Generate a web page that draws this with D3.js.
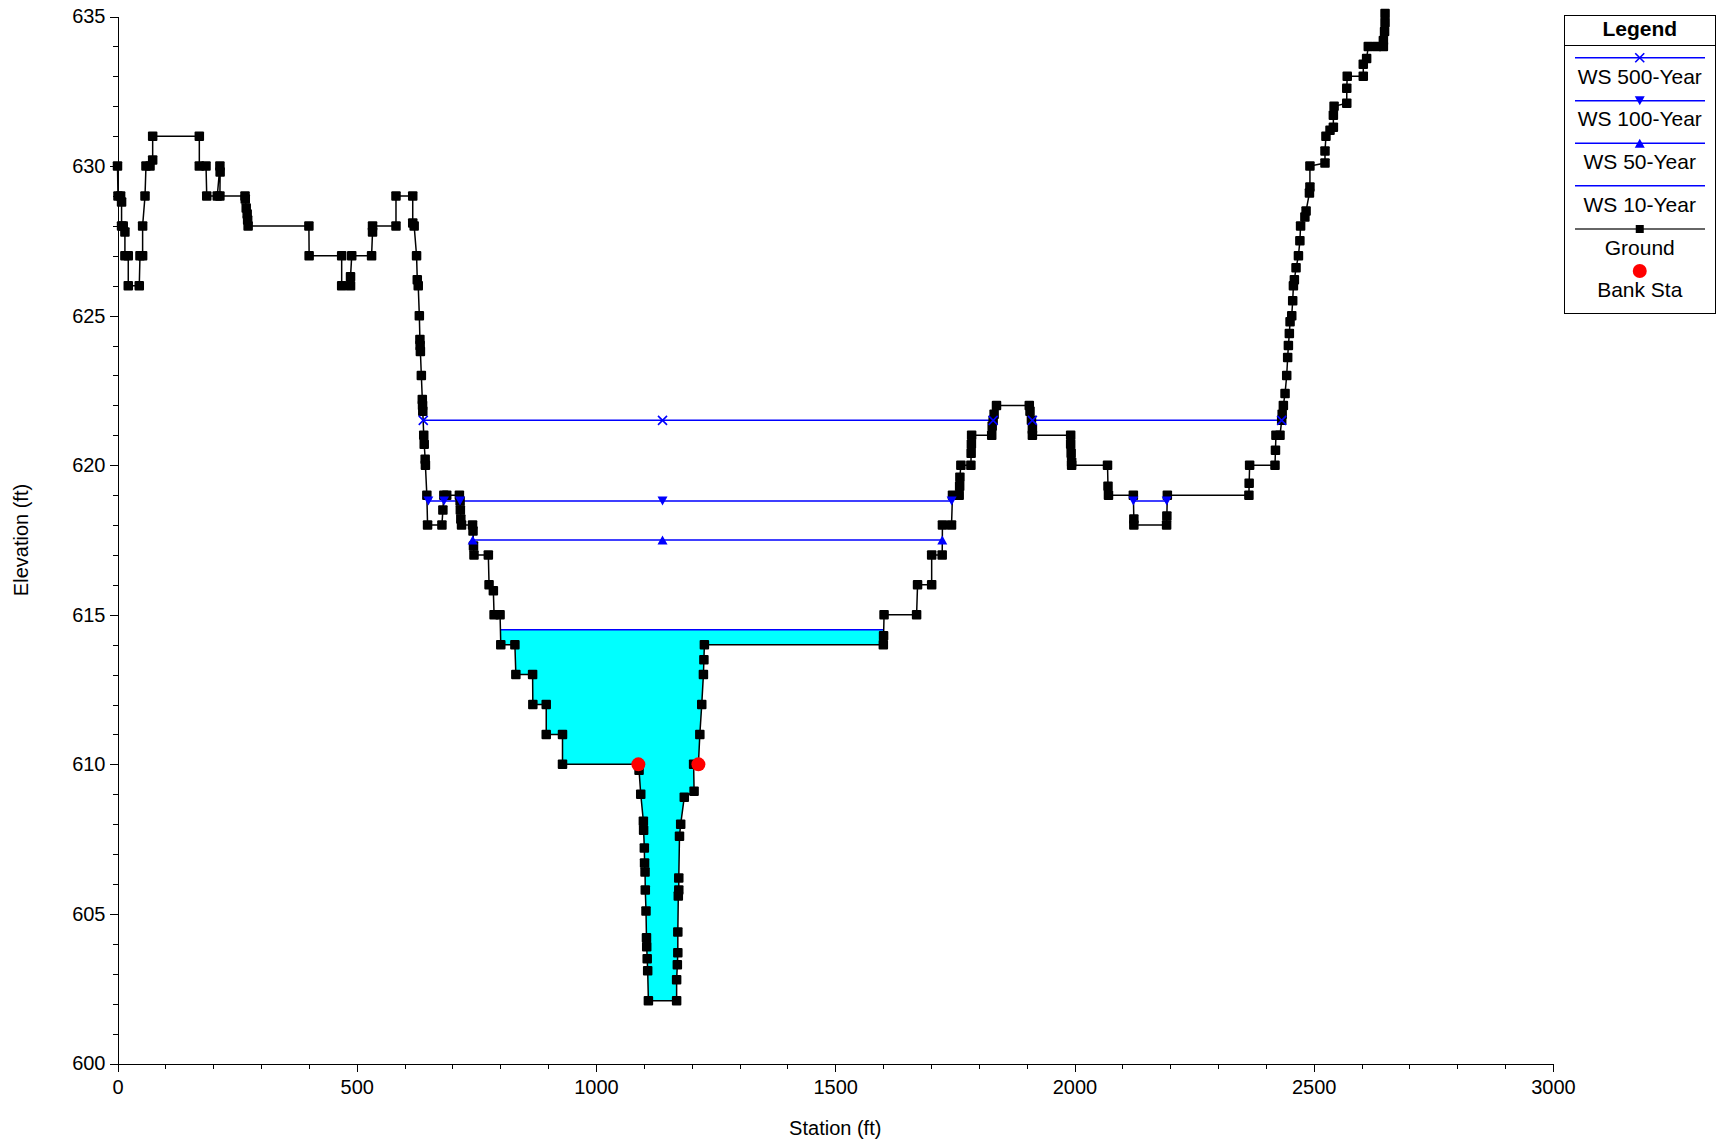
<!DOCTYPE html>
<html><head><meta charset="utf-8">
<script src="https://cdn.jsdelivr.net/npm/d3@7"></script>
<style>
html,body{margin:0;padding:0;background:#fff;}
svg{display:block;font-family:"Liberation Sans",Arial,Helvetica,sans-serif;}
</style></head><body>
<svg id="chart" width="1723" height="1147"></svg>
<script>
// ---------- DATA ----------
const ground = [
[0,630],[1,629],[6.5,629],[8.5,628.8],[8.5,628],[12,628],[15.5,627.8],[15.5,627],[22.5,627],[22.5,626],
[45.5,626],[47,627],[52.5,627],[52.5,628],[57.5,629],[59.5,630],[68,630],[73.5,630.2],[73.5,631],[171,631],
[171,630],[185,630],[186.5,629],[208.5,629],[214,630],[214.5,629.8],[214,629],[266.5,629],[267,628.9],[269,628.6],
[271,628.4],[272,628.2],[273,628],[400,628],[400.5,627],[468.5,627],[468.5,626],[487,626],[487,626.3],[489.5,627],
[531,627],[533,627.8],[533,628],[582,628],[582,629],[617,629],[617,628.1],[620,628],[625,627],[626.5,626.2],
[628.5,626],[630.8,625],[632,624.2],[632.5,624],[633,623.8],[635,623],[637,622.2],[637.5,622],[638,621.8],[640,621],
[641,620.7],[643,620.2],[643.5,620],[646.5,619],[648,618],[678,618],[680,618.5],[682,619],[688,619],[714.5,619],
[716,618.8],[716.5,618.5],[717.5,618.2],[719,618],[742,618],[743,617.8],[744,617.3],[745,617],[775,617],[776.5,616],
[785.5,615.8],[787,615],[799.5,615],[801,614],[830.5,614],[832.5,613],[867.5,613],[868,612],[896,612],[896,611],
[930,611],[930,610],[1088.5,610],[1090,609.8],[1093.5,609],[1099,608.1],[1099.5,607.8],[1101,607.2],[1101.5,606.7],[1102.5,606.4],
[1103,605.8],[1104.5,605.1],[1105.5,604.2],[1106,603.9],[1107,603.5],[1108,603.1],[1109.5,602.1],[1168.5,602.1],[1168.5,602.8],[1170,603.3],
[1171,603.7],[1171,604.4],[1172,605.6],[1173,605.8],[1173,606.2],[1174.5,607.6],[1177,608],[1184.5,608.9],[1205,609.1],[1204,610],
[1214,610],[1217,611],[1221,612],[1224.5,613],[1225.5,613.5],[1226.5,614],[1600.5,614],[1601,614.3],[1602,615],[1670,615],
[1672,616],[1701.5,616],[1701.5,617],[1723.5,617],[1724,618],[1743,618],[1745,619],[1759,619],[1760,619.3],[1760.5,619.6],
[1762.5,620],[1783.5,620],[1784,620.4],[1784.5,620.7],[1785,621],[1827,621],[1828,621.3],[1830,621.5],[1832,621.7],[1837,622],
[1905.5,622],[1907,621.8],[1910,621.5],[1912,621.2],[1912,621],[1992,621],[1992,620.7],[1993,620.4],[1994,620.1],[1994,620],
[2069,620],[2070,619.3],[2071,619],[2123,619],[2124,618.2],[2124,618],[2192.5,618],[2193,618.3],[2194,619],[2364.5,619],
[2365,619.4],[2366,620],[2419,620],[2420,620.5],[2421,621],[2429.5,621],[2433,621.5],[2434,621.7],[2436.5,622],[2440,622.4],
[2443.5,623],[2445.5,623.6],[2447,624],[2449,624.4],[2450.5,624.8],[2454,625],[2456,625.5],[2457.5,626],[2459.5,626.2],[2463,626.6],
[2468,627],[2471,627.5],[2472.5,628],[2481.5,628.3],[2484,628.5],[2491,629.1],[2492,629.3],[2492,630],[2523.5,630.1],[2523.5,630.5],
[2525.5,631],[2534,631.2],[2541,631.3],[2541,631.7],[2542.5,632],[2569,632.1],[2569,632.6],[2570,633],[2603.5,633],[2603.5,633.4],
[2610.5,633.6],[2614,634],[2631.5,634],[2645.5,634],[2645.5,634.2],[2648,634.5],[2649,634.8],[2649,635.1]
];
const bankSta = [[1088.5,610],[1214,610]];
const ws500 = [[639,621.5],[1139,621.5],[1830,621.5],null,[1912,621.5],[2433,621.5]];
const ws100 = [[649.6,618.8],[682.4,618.8],[715.8,618.8],[1139,618.8],[1743.3,618.8],null,[2123,618.8],[2192.7,618.8]];
const ws50  = [[742.3,617.5],[1139,617.5],[1723.7,617.5]];
const ws10  = [[800.3,614.5],[1601,614.5]];
const xTicks = [0,500,1000,1500,2000,2500,3000];
const yTicks = [600,605,610,615,620,625,630,635];
const legendLabels = ["WS 500-Year","WS 100-Year","WS 50-Year","WS 10-Year","Ground","Bank Sta"];

// ---------- LAYOUT ----------
const svg = d3.select("#chart");
const X0 = 117.5, X1 = 1553, YT = 16.5, YB = 1063.5;
const x = d3.scaleLinear().domain([0,3000]).range([X0,X1]);
const y = d3.scaleLinear().domain([600,635]).range([YB,YT]);
const BLUE = "#0000ff";
const SQ = 9.5;

// water fill (WS 10 to ground)
const inner = ground.filter(d => d[0] > ws10[0][0] && d[0] < ws10[1][0]);
const poly = [ws10[0], ws10[1]].concat(inner.slice().reverse());
svg.append("path")
  .attr("d", d3.line().x(d=>x(d[0])).y(d=>y(d[1]))(poly) + "Z")
  .attr("fill", "#00ffff").attr("stroke", "none");

// axes
const xMinor = d3.range(0,3001,100).filter(v => v % 500 !== 0);
const yMinor = d3.range(600,636,1).filter(v => v % 5 !== 0);
const gx = svg.append("g").attr("transform",`translate(0,${YB})`);
gx.call(d3.axisBottom(x).tickValues(xMinor).tickSize(5).tickSizeOuter(0).tickFormat(""));
gx.call(g => g.select(".domain").remove());
svg.append("g").attr("transform",`translate(0,${YB})`)
  .call(d3.axisBottom(x).tickValues(xTicks).tickSize(8).tickSizeOuter(0).tickPadding(8).tickFormat(d3.format("d")));
const gy = svg.append("g").attr("transform",`translate(${X0},0)`);
gy.call(d3.axisLeft(y).tickValues(yMinor).tickSize(5).tickSizeOuter(0).tickFormat(""));
gy.call(g => g.select(".domain").remove());
svg.append("g").attr("transform",`translate(${X0},0)`)
  .call(d3.axisLeft(y).tickValues(yTicks).tickSize(8).tickSizeOuter(0).tickPadding(4).tickFormat(d3.format("d")));
svg.selectAll(".tick text").attr("font-size", 20).attr("fill","#000")
  .attr("font-family",'"Liberation Sans",Arial,sans-serif');
svg.selectAll(".tick line").attr("stroke","#000").attr("shape-rendering","crispEdges");
svg.selectAll(".domain").attr("stroke","#000").attr("shape-rendering","crispEdges");

svg.append("text").attr("x",(X0+X1)/2).attr("y",1135).attr("text-anchor","middle")
  .attr("font-size",20).text("Station (ft)");
svg.append("text").attr("transform",`translate(28,${(YT+YB)/2}) rotate(-90)`).attr("text-anchor","middle")
  .attr("font-size",20).text("Elevation (ft)");

// WS lines
const line = d3.line().defined(d => d !== null).x(d=>x(d[0])).y(d=>y(d[1]));
[ws500, ws100, ws50, ws10].forEach(s => {
  svg.append("path").attr("d", line(s)).attr("fill","none").attr("stroke",BLUE).attr("stroke-width",1.5);
});

// ground
svg.append("path").attr("d", line(ground)).attr("fill","none").attr("stroke","#000").attr("stroke-width",1.5);
svg.append("g").selectAll("rect").data(ground).join("rect")
  .attr("x", d => x(d[0]) - SQ/2).attr("y", d => y(d[1]) - SQ/2)
  .attr("width", SQ).attr("height", SQ).attr("rx", 1).attr("fill", "#000");

// markers
function xMark(g, cx, cy){ const r=4.5;
  g.append("path").attr("d",`M${cx-r},${cy-r}L${cx+r},${cy+r}M${cx-r},${cy+r}L${cx+r},${cy-r}`)
   .attr("stroke",BLUE).attr("stroke-width",1.6).attr("fill","none"); }
function triDown(g, cx, cy){ g.append("path").attr("d",`M${cx-5},${cy-4.5}L${cx+5},${cy-4.5}L${cx},${cy+4.5}Z`).attr("fill",BLUE); }
function triUp(g, cx, cy){ g.append("path").attr("d",`M${cx-5},${cy+4.5}L${cx+5},${cy+4.5}L${cx},${cy-4.5}Z`).attr("fill",BLUE); }
const gm = svg.append("g");
ws500.filter(d=>d).forEach(d => xMark(gm, x(d[0]), y(d[1])));
ws100.filter(d=>d).forEach(d => triDown(gm, x(d[0]), y(d[1])));
ws50.filter(d=>d).forEach(d => triUp(gm, x(d[0]), y(d[1])));

svg.append("g").selectAll("circle").data(bankSta).join("circle")
  .attr("cx", d => x(d[0])).attr("cy", d => y(d[1])).attr("r", 7).attr("fill", "#ff0000");

// legend
const L = svg.append("g");
const LX = 1564.5, LY = 15, LW = 150.5, LH = 298.5, LC = LX + LW/2;
L.append("rect").attr("x",LX).attr("y",LY).attr("width",LW).attr("height",LH)
  .attr("fill","#fff").attr("stroke","#000").attr("stroke-width",1).attr("shape-rendering","crispEdges");
L.append("line").attr("x1",LX).attr("x2",LX+LW).attr("y1",45).attr("y2",45).attr("stroke","#000").attr("shape-rendering","crispEdges");
L.append("text").attr("x",LC).attr("y",36).attr("text-anchor","middle").attr("font-size",21).attr("font-weight","bold").text("Legend");
const lineYs = [57.7,100.7,143.3,185.7,229,271];
const textYs = [84,126,169,212,255,297];
legendLabels.forEach((lab,i) => {
  const ly = lineYs[i];
  if (i < 4) L.append("line").attr("x1",1575).attr("x2",1705).attr("y1",ly).attr("y2",ly).attr("stroke",BLUE).attr("stroke-width",1.5);
  if (i === 0) xMark(L, LC, ly);
  if (i === 1) triDown(L, LC, ly);
  if (i === 2) triUp(L, LC, ly);
  if (i === 4) { L.append("line").attr("x1",1575).attr("x2",1705).attr("y1",ly).attr("y2",ly).attr("stroke","#333").attr("stroke-width",1.5);
                 L.append("rect").attr("x",LC-4).attr("y",ly-4).attr("width",8).attr("height",8).attr("fill","#000"); }
  if (i === 5) L.append("circle").attr("cx",LC).attr("cy",ly).attr("r",7).attr("fill","#ff0000");
  L.append("text").attr("x",LC).attr("y",textYs[i]).attr("text-anchor","middle").attr("font-size",21).attr("fill","#000").text(lab);
});
</script>
</body></html>
